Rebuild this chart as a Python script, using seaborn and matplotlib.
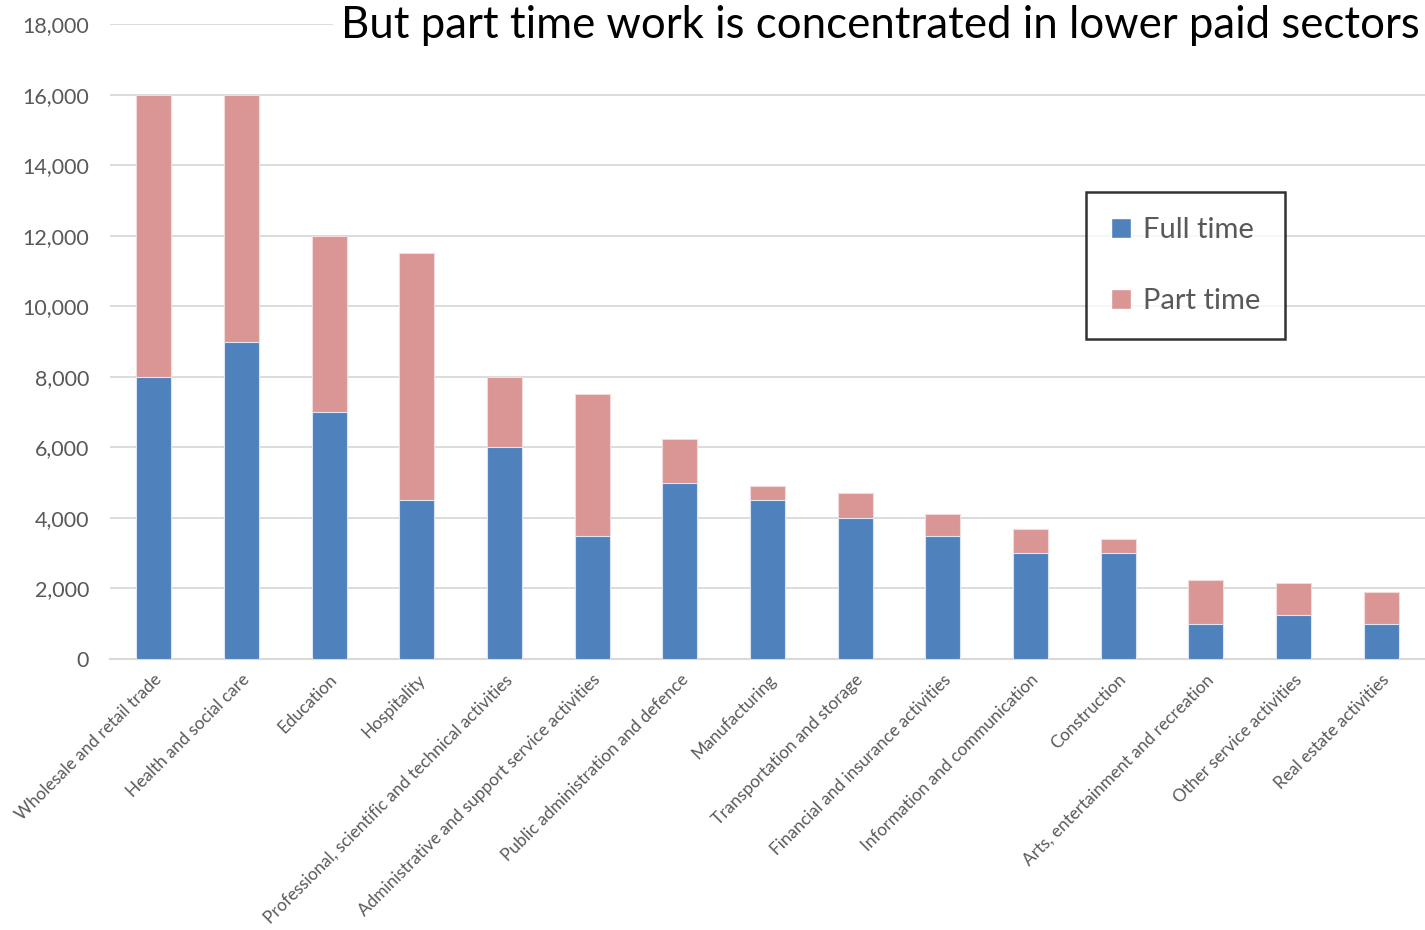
import pandas as pd
import numpy as np
import matplotlib.pyplot as plt
import seaborn as sns
from matplotlib.patches import Patch

# ============================================
# Data
# ============================================
sectors = [
    'Wholesale and retail trade',
    'Health and social care',
    'Education',
    'Hospitality',
    'Professional, scientific and technical activities',
    'Administrative and support service activities',
    'Public administration and defence',
    'Manufacturing',
    'Transportation and storage',
    'Financial and insurance activities',
    'Information and communication',
    'Construction',
    'Arts, entertainment and recreation',
    'Other service activities',
    'Real estate activities',
]
full_time = [8000, 9000, 7000, 4500, 6000, 3500, 5000, 4500, 4000, 3500, 3000, 3000, 1000, 1250, 1000]
part_time = [8000, 7000, 5000, 7000, 2000, 4000, 1250, 400, 700, 600, 700, 400, 1250, 900, 900]
y_ticks = [0, 2000, 4000, 6000, 8000, 10000, 12000, 14000, 16000, 18000]

df = pd.DataFrame({'Sector': sectors, 'Full time': full_time, 'Part time': part_time})
df['Total'] = df['Full time'] + df['Part time']

blue = '#4F81BD'
pink = '#D99694'
grey_text = '#595959'
grid_col = '#D9D9D9'

sns.set_style('white')
plt.rcParams['font.family'] = ['Lato', 'DejaVu Sans']

fig = plt.figure(figsize=(14.25, 9.3), dpi=100)
ax = fig.add_axes([0.0772, 0.2914, 0.9228, 0.6826])

# stacked bars: total (part time on top) then full time over it
sns.barplot(data=df, x='Sector', y='Total', color=pink, width=0.4,
            edgecolor='#F2DCDB', linewidth=0.8, saturation=1, ax=ax, zorder=2)
sns.barplot(data=df, x='Sector', y='Full time', color=blue, width=0.4,
            edgecolor='#DCE6F2', linewidth=0.8, saturation=1, ax=ax, zorder=3)

ax.set_xlim(-0.5, len(sectors) - 0.5)
ax.set_ylim(0, 18000)
ax.set_yticks(y_ticks)
ax.set_yticklabels([f'{v:,}' for v in y_ticks])
ax.yaxis.grid(True, color=grid_col, linewidth=1.3, zorder=0)
ax.set_axisbelow(True)
ax.set_xlabel('')
ax.set_ylabel('')

for s in ['top', 'right', 'left']:
    ax.spines[s].set_visible(False)
ax.spines['bottom'].set_color(grid_col)
ax.spines['bottom'].set_linewidth(1.5)

ax.tick_params(axis='y', length=0, pad=15, labelsize=15.5, labelcolor=grey_text)
ax.tick_params(axis='x', length=0, pad=9, labelsize=12.4, labelcolor=grey_text)
plt.setp(ax.get_xticklabels(), rotation=45, ha='right', va='top', rotation_mode='anchor')

# legend with black frame
handles = [Patch(facecolor=blue, label='Full time'), Patch(facecolor=pink, label='Part time')]
leg = ax.legend(handles=handles, loc='upper left', bbox_to_anchor=(0.742, 0.735),
                fontsize=21, frameon=True, fancybox=False, labelcolor=grey_text,
                handlelength=0.7, handleheight=0.7, handletextpad=0.4,
                labelspacing=1.55, borderpad=0.85, borderaxespad=0)
leg.get_frame().set_edgecolor('black')
leg.get_frame().set_linewidth(1.8)

# title sits over the top gridline
fig.text(0.2395, 0.973, 'But part time work is concentrated in lower paid sectors',
         fontsize=31.5, color='black', ha='left', va='center',
         bbox=dict(facecolor='white', edgecolor='none', pad=6))

plt.savefig('out.png', dpi=100)
